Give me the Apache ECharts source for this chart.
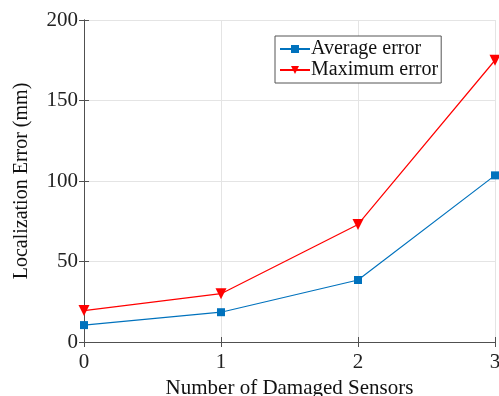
<!DOCTYPE html>
<html>
<head>
<meta charset="utf-8">
<script src="https://cdn.jsdelivr.net/npm/echarts@6/dist/echarts.min.js"></script>
<style>
  html, body { margin: 0; padding: 0; background: #fff; }
  #chart { width: 499px; height: 396px; }
</style>
</head>
<body>
<div id="chart"></div>
<script>
// Localization error versus number of damaged sensors
const sensors = [0, 1, 2, 3];
const averageError = [10.5, 18.5, 38.5, 103.5];
const maximumError = [19.5, 30, 73, 175];
const yTicks = [0, 50, 100, 150, 200];

const FONT = 'Liberation Serif';
const AXIS_COLOR = '#505050';
const GRID_COLOR = '#e4e4e4';

const chart = echarts.init(document.getElementById('chart'), null, { renderer: 'canvas' });

const frameAxis = {
  show: true,
  axisLine: { show: true, lineStyle: { color: AXIS_COLOR, width: 1 } },
  axisTick: { show: true, inside: true, length: 5, lineStyle: { color: AXIS_COLOR } },
  axisLabel: { show: false },
  splitLine: { show: false }
};

chart.setOption({
  animation: false,
  backgroundColor: '#ffffff',
  grid: { left: 84, right: 4, top: 20, bottom: 54, containLabel: false, outerBoundsMode: 'none' },
  legend: {
    left: 275, top: 36,
    orient: 'vertical',
    itemGap: 1,
    itemWidth: 30, itemHeight: 10,
    padding: [3, 3, 3, 4],
    borderColor: '#555',
    borderWidth: 1,
    backgroundColor: '#fff',
    textStyle: { fontFamily: FONT, fontSize: 20, color: '#111', padding: [0, 0, 0, -4] },
    data: ['Average error', 'Maximum error']
  },
  xAxis: [{
    type: 'value',
    min: sensors[0], max: sensors[sensors.length - 1], interval: 1,
    name: 'Number of Damaged Sensors',
    nameLocation: 'middle', nameGap: 36,
    nameTextStyle: { fontFamily: FONT, fontSize: 21, color: '#111' },
    axisLine: { show: true, onZero: false, lineStyle: { color: AXIS_COLOR, width: 1 } },
    axisTick: { show: true, inside: true, length: 5, lineStyle: { color: AXIS_COLOR } },
    axisLabel: { fontFamily: FONT, fontSize: 21, color: '#222', margin: 10 },
    splitLine: { show: true, lineStyle: { color: GRID_COLOR, width: 1 } }
  }, Object.assign({ type: 'value', position: 'top', min: 0, max: 3, interval: 1 }, frameAxis)],
  yAxis: [{
    type: 'value',
    min: yTicks[0], max: yTicks[yTicks.length - 1], interval: 50,
    name: 'Localization Error (mm)',
    nameLocation: 'middle', nameGap: 52,
    nameTextStyle: { fontFamily: FONT, fontSize: 20, color: '#111' },
    axisLine: { show: true, lineStyle: { color: AXIS_COLOR, width: 1 } },
    axisTick: { show: true, inside: true, length: 5, lineStyle: { color: AXIS_COLOR } },
    axisLabel: { fontFamily: FONT, fontSize: 21, color: '#222', margin: 6 },
    splitLine: { show: true, lineStyle: { color: GRID_COLOR, width: 1 } }
  }, Object.assign({ type: 'value', position: 'right', min: 0, max: 200, interval: 50 }, frameAxis)],
  series: [{
    name: 'Average error',
    type: 'line',
    data: sensors.map((s, i) => [s, averageError[i]]),
    symbol: 'rect', symbolSize: 8,
    color: '#0072BD',
    lineStyle: { width: 1.2, color: '#0072BD' },
    itemStyle: { color: '#0072BD' },
    z: 3
  }, {
    name: 'Maximum error',
    type: 'line',
    data: sensors.map((s, i) => [s, maximumError[i]]),
    symbol: 'triangle', symbolRotate: 180, symbolSize: 11,
    color: '#FF0000',
    lineStyle: { width: 1.2, color: '#FF0000' },
    itemStyle: { color: '#FF0000' },
    z: 3
  }]
});
</script>
</body>
</html>
